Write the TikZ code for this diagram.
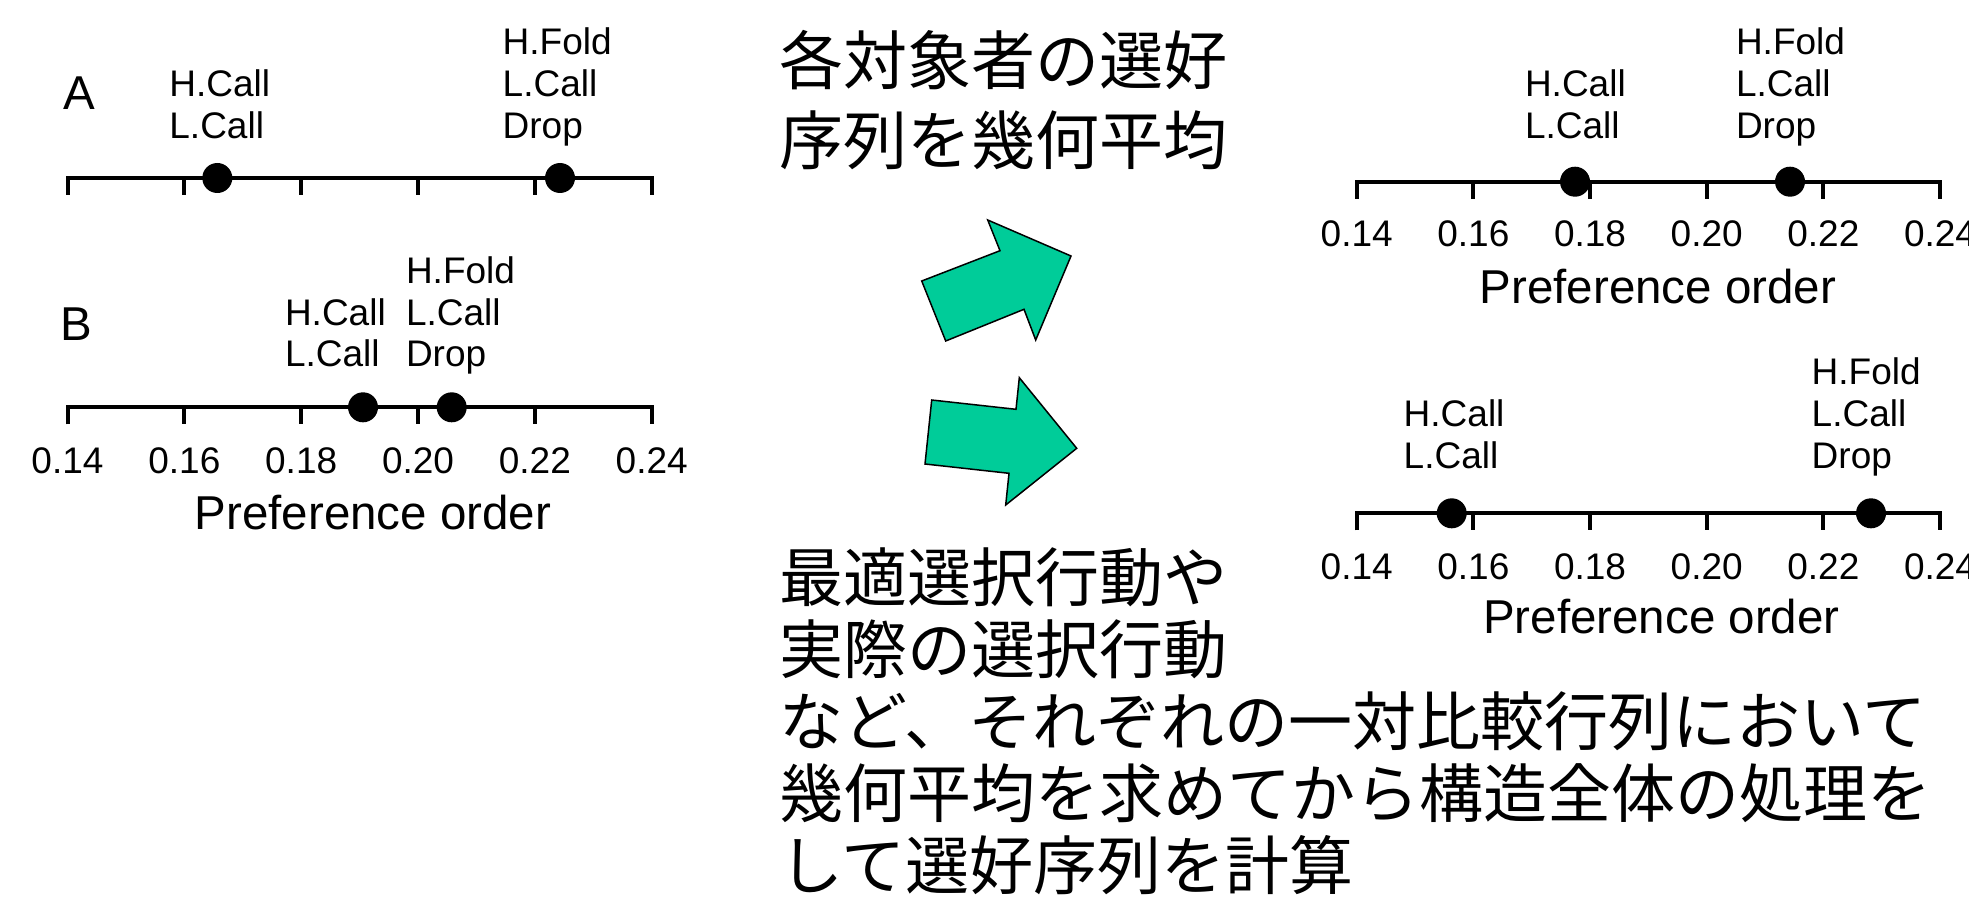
\documentclass[tikz,border=0pt]{standalone}
\usepackage{fontspec}
\setmainfont{Liberation Sans}
\newfontfamily\jpfont{Noto Sans CJK JP}
\definecolor{arrowgreen}{RGB}{0,204,153}
\newcommand\myaxis[3]{%
  \draw[axisline] (#1,#2+17) -- (#1,#2) -- ({#1+5*#3},#2) -- ({#1+5*#3},#2+17);
  \foreach \k in {1,...,4} \draw[axisline] ({#1+\k*#3},#2) -- ({#1+\k*#3},#2+17);}
\newcommand\myticks[4]{%
  \foreach \v [count=\k from 0] in {0.14,0.16,0.18,0.20,0.22,0.24}
    \node[ticklab] (#4\k) at ({#1+\k*#3},#2) {\v};}
\newcommand\stacklabel[4]{%
  \foreach \t [count=\k from 0] in {#4}
    \node[lab] (#3\k) at (#1,{#2+\k*41.7}) {\t};}
\begin{document}
\begin{tikzpicture}[x=1pt,y=-1pt,
  lab/.style={anchor=base west, inner sep=0pt, font=\fontsize{37}{42}\selectfont},
  ticklab/.style={anchor=base, inner sep=0pt, font=\fontsize{37}{42}\selectfont},
  ttl/.style={anchor=base west, inner sep=0pt, font=\fontsize{47.5}{55}\selectfont},
  jp/.style={anchor=base west, inner sep=0pt, font=\jpfont\fontsize{64}{72}\selectfont},
  axisline/.style={line width=4pt},
  dot/.style={circle, fill=black, inner sep=0pt, minimum size=30pt},
  bigarrow/.style={fill=arrowgreen, draw=black, line width=1.5pt, line join=miter}]
\useasboundingbox (0,0) rectangle (1969,912);
\clip (0,0) rectangle (1969,912);

% ---------- left plot A ----------
\node[ttl] (titleA) at (63,110) {A};
\myaxis{67.5}{178}{116.84}
\node[dot] (a1) at (217.3,178) {};
\node[dot] (a2) at (560,178) {};
\stacklabel{169.2}{96.6}{aHC}{H.Call,L.Call}
\stacklabel{502.5}{54.9}{aHF}{H.Fold,L.Call,Drop}

% ---------- left plot B ----------
\node[ttl] (titleB) at (60,340.7) {B};
\myaxis{67.5}{407.3}{116.84}
\node[dot] (b1) at (363,407.3) {};
\node[dot] (b2) at (451.7,407.3) {};
\stacklabel{284.8}{325}{bHC}{H.Call,L.Call}
\stacklabel{405.8}{283.3}{bHF}{H.Fold,L.Call,Drop}
\myticks{67.5}{473}{116.84}{bt}
\node[ttl] (bxlab) at (194.6,529) {Preference order};

% ---------- right top plot ----------
\myaxis{1356.7}{181.7}{116.66}
\node[dot] (c1) at (1575,181.7) {};
\node[dot] (c2) at (1790,181.7) {};
\stacklabel{1524.8}{96.6}{cHC}{H.Call,L.Call}
\stacklabel{1735.8}{54.9}{cHF}{H.Fold,L.Call,Drop}
\myticks{1356.7}{246.7}{116.66}{ct}
\node[ttl] (cxlab) at (1479.6,303.3) {Preference order};

% ---------- right bottom plot ----------
\myaxis{1356.7}{513.3}{116.66}
\node[dot] (d1) at (1451.7,513.3) {};
\node[dot] (d2) at (1871,513.3) {};
\stacklabel{1403.5}{426.6}{dHC}{H.Call,L.Call}
\stacklabel{1811.5}{384.9}{dHF}{H.Fold,L.Call,Drop}
\myticks{1356.7}{579.3}{116.66}{dt}
\node[ttl] (dxlab) at (1483,633.3) {Preference order};

% ---------- arrows ----------
\draw[bigarrow] (921.7,281) -- (1000,250.7) -- (987.7,220) -- (1071,256)
  -- (1035.7,340) -- (1024,309.3) -- (945.7,341) -- cycle;
\draw[bigarrow] (931.7,400) -- (1016,409.3) -- (1019.3,377.7) -- (1076.7,448.3)
  -- (1005.7,505) -- (1009,473.3) -- (925,464) -- cycle;

% ---------- Japanese text ----------
\node[jp] (jt1) at (779,85) {各対象者の選好};
\node[jp] (jt2) at (779,165) {序列を幾何平均};
\node[jp] (jb1) at (779,601) {最適選択行動や};
\node[jp] (jb2) at (779,673) {実際の選択行動};
\node[jp] (jb3) at (779,745) {など、それぞれの一対比較行列において};
\node[jp] (jb4) at (779,817) {幾何平均を求めてから構造全体の処理を};
\node[jp] (jb5) at (779,889) {して選好序列を計算};
\end{tikzpicture}
\end{document}
